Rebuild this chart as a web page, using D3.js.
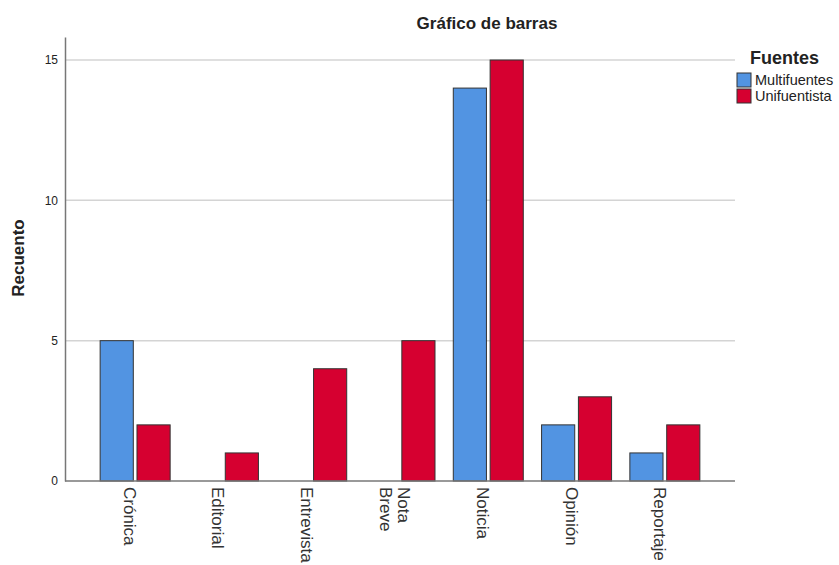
<!DOCTYPE html>
<html lang="es">
<head>
<meta charset="UTF-8">
<title>Gráfico de barras</title>
<script src="https://d3js.org/d3.v7.min.js"></script>
<style>
  body { margin: 0; background: #fff; }
  svg { font-family: "Liberation Sans", Arial, sans-serif; }
  .grid line { stroke: #d4d4d4; stroke-width: 1.5px; }
  .bar { stroke: #333; stroke-width: 1px; }
</style>
</head>
<body>
<div id="chart"></div>
<script>
  // categorías y recuentos
  const categorias = ["Crónica", "Editorial", "Entrevista", "Nota Breve", "Noticia", "Opinión", "Reportaje"];
  const series = ["Multifuentes", "Unifuentista"];
  const multifuentes = [5, 0, 0, 0, 14, 2, 1];
  const unifuentista = [2, 1, 4, 5, 15, 3, 2];
  const yTicks = [0, 5, 10, 15];
  const colores = ["#5294e2", "#d60030"];

  const width = 839, height = 565;
  const plotLeft = 65, plotRight = 735, plotTop = 37, plotBase = 481;

  const svg = d3.select("#chart").append("svg")
    .attr("width", width)
    .attr("height", height);

  const y = d3.scaleLinear().domain([0, 15.82]).range([plotBase, plotTop]);
  const x = d3.scaleBand().domain(categorias).range([plotLeft + 26, plotRight - 26]);
  const x1 = d3.scaleBand().domain(series).range([-35, 35]).paddingInner(0.1);

  // lineas de cuadricula
  svg.append("g").attr("class", "grid")
    .selectAll("line")
    .data(yTicks.filter(d => d > 0))
    .enter().append("line")
    .attr("x1", plotLeft).attr("x2", plotRight)
    .attr("y1", d => y(d)).attr("y2", d => y(d));

  // eje y
  const yAxis = svg.append("g")
    .attr("transform", `translate(${plotLeft},0)`)
    .call(d3.axisLeft(y).tickValues(yTicks).tickSize(0).tickPadding(7));
  yAxis.select(".domain").attr("stroke", "#777").attr("stroke-width", 1.5);
  yAxis.selectAll("text").attr("font-size", 12).attr("fill", "#222")
    .attr("font-family", "Liberation Sans, Arial, sans-serif");

  // barras
  const datos = [];
  categorias.forEach((c, i) => {
    datos.push({ cat: c, serie: series[0], v: multifuentes[i] });
    datos.push({ cat: c, serie: series[1], v: unifuentista[i] });
  });

  svg.append("g").selectAll("rect")
    .data(datos.filter(d => d.v > 0))
    .enter().append("rect")
    .attr("class", "bar")
    .attr("x", d => x(d.cat) + x.bandwidth() / 2 + x1(d.serie))
    .attr("width", x1.bandwidth())
    .attr("y", d => y(d.v))
    .attr("height", d => plotBase - y(d.v))
    .attr("fill", d => colores[series.indexOf(d.serie)]);

  // eje x
  svg.append("line")
    .attr("x1", plotLeft).attr("x2", plotRight)
    .attr("y1", plotBase).attr("y2", plotBase)
    .attr("stroke", "#777").attr("stroke-width", 1.5);

  const etiquetas = svg.append("g").selectAll("text")
    .data(categorias)
    .enter().append("text")
    .attr("transform", d => `translate(${x(d) + x.bandwidth() / 2 - 5},487) rotate(90)`)
    .attr("font-size", 17)
    .attr("fill", "#333");

  etiquetas.each(function(d) {
    const partes = d.split(" ");
    const t = d3.select(this);
    const off = (partes.length - 1) * 0.5;
    partes.forEach((p, k) => {
      t.append("tspan")
        .attr("x", 0)
        .attr("dy", k === 0 ? (0.35 - off * 1.1) + "em" : "1.1em")
        .text(p);
    });
  });

  // titulo
  svg.append("text")
    .attr("x", 487).attr("y", 29)
    .attr("text-anchor", "middle")
    .attr("font-size", 17).attr("font-weight", "bold")
    .attr("fill", "#222")
    .text("Gráfico de barras");

  svg.append("text")
    .attr("transform", "translate(24,258) rotate(-90)")
    .attr("text-anchor", "middle")
    .attr("font-size", 17).attr("font-weight", "bold")
    .attr("fill", "#222")
    .text("Recuento");

  // leyenda
  svg.append("text")
    .attr("x", 750).attr("y", 64)
    .attr("font-size", 18).attr("font-weight", "bold")
    .attr("fill", "#222")
    .text("Fuentes");

  const leg = svg.append("g").selectAll("g")
    .data(series)
    .enter().append("g")
    .attr("transform", (d, i) => `translate(737,${73 + i * 16})`);
  leg.append("rect")
    .attr("width", 14).attr("height", 14)
    .attr("fill", (d, i) => colores[i])
    .attr("stroke", "#333");
  leg.append("text")
    .attr("x", 18).attr("y", 12)
    .attr("font-size", 14.5)
    .attr("fill", "#222")
    .text(d => d);
</script>
</body>
</html>
